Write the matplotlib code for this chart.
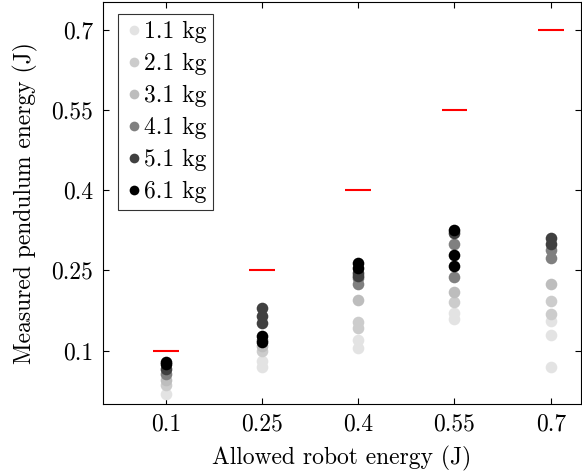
import numpy as np
import matplotlib
matplotlib.use("Agg")
import matplotlib.pyplot as plt
from matplotlib.lines import Line2D

plt.rcParams['font.family'] = 'serif'
plt.rcParams['font.serif'] = ['cmr10', 'DejaVu Serif']
plt.rcParams['axes.formatter.use_mathtext'] = True

# allowed energy levels (J)
energies = [0.1, 0.25, 0.4, 0.55, 0.7]
mass_labels = ['1.1 kg', '2.1 kg', '3.1 kg', '4.1 kg', '5.1 kg', '6.1 kg']
mass_colors = ['#e3e3e3', '#cccccc', '#bdbdbd', '#808080', '#404040', '#000000']

# measured pendulum energy, one list of trials per allowed energy
m11 = [[0.019], [0.070, 0.081], [0.104, 0.119], [0.160, 0.171], [0.070, 0.130, 0.156]]
m21 = [[0.035], [0.100], [0.143, 0.154], [0.190], [0.169, 0.192]]
m31 = [[0.045], [0.108], [0.194], [0.209], [0.224]]
m41 = [[0.057], [0.120], [0.224, 0.235], [0.237, 0.299], [0.274, 0.288]]
m51 = [[0.065], [0.151, 0.164, 0.179], [0.239, 0.246], [0.320], [0.300, 0.310]]
m61 = [[0.074, 0.079], [0.117, 0.128], [0.254, 0.263], [0.259, 0.278, 0.325], []]
measured = [m11, m21, m31, m41, m51, m61]

fig = plt.figure(figsize=(5.82, 4.72), dpi=100)
ax = fig.add_axes([0.177, 0.144, 0.821, 0.852])

for trials, col in zip(measured, mass_colors):
    xs, ys = [], []
    for e, vals in zip(energies, trials):
        xs += [e] * len(vals)
        ys += vals
    ax.scatter(xs, ys, s=70, color=col, linewidths=0, zorder=3)

e = np.array(energies)
ax.hlines(e, e - 0.02, e + 0.02, color='red', lw=1.5, zorder=4)

ax.set_xlim(0.002, 0.747)
ax.set_ylim(0.0, 0.7525)
ax.set_xticks(energies)
ax.set_xticklabels(['0.1', '0.25', '0.4', '0.55', '0.7'])
ax.set_yticks(energies)
ax.set_yticklabels(['0.1', '0.25', '0.4', '0.55', '0.7'])
ax.tick_params(direction='in', length=4, width=0.8, top=True, right=True,
               labelsize=17, pad=7)
ax.set_xlabel('Allowed robot energy (J)', fontsize=17, labelpad=7)
ax.set_ylabel('Measured pendulum energy (J)', fontsize=17, labelpad=10)

handles = [Line2D([], [], ls='none', marker='o', markersize=7, color=c,
                  markeredgewidth=0) for c in mass_colors]
leg = ax.legend(handles, mass_labels, loc='upper left', fontsize=17,
                frameon=True, fancybox=False, handletextpad=0.0,
                handlelength=0.8, borderpad=0.3, labelspacing=0.42,
                borderaxespad=0, bbox_to_anchor=(0.031, 0.970))
leg.get_frame().set_edgecolor('black')
leg.get_frame().set_linewidth(0.8)

fig.savefig('out.png', dpi=100)
